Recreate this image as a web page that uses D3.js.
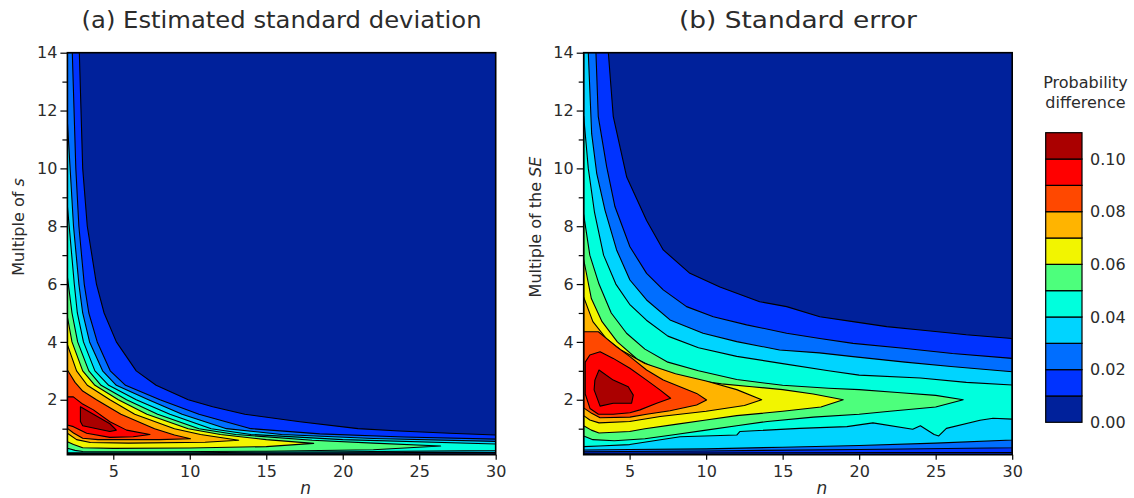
<!DOCTYPE html>
<html>
<head>
<meta charset="utf-8">
<script src="https://cdn.jsdelivr.net/npm/d3@7"></script>
<style>
  body { margin: 0; background: #fff; }
  text { font-family: "DejaVu Sans", sans-serif; fill: #2b2b2b; }
</style>
</head>
<body>
<svg id="chart" width="1134" height="498"></svg>
<script>
// Contour levels and band colours (band i covers levels[i] .. levels[i+1])
const levels = [0, 0.01, 0.02, 0.03, 0.04, 0.05, 0.06, 0.07, 0.08, 0.09, 0.10, 0.11];
const bandColors = ["#00219b", "#0033ff", "#006eff", "#00d4ff", "#00ffdd",
                    "#4dff7c", "#f2f500", "#ffb400", "#ff4800", "#ff0000", "#aa0000"];
const xTicks = [5, 10, 15, 20, 25, 30];
const yTicks = [2, 4, 6, 8, 10, 12, 14];
const yMinorTicks = [1, 3, 5, 7, 9, 11, 13];
const legendTicks = [0, 0.02, 0.04, 0.06, 0.08, 0.10];

// (a) Estimated standard deviation: outline of the region where the
// difference >= 0.01, 0.02, ... as [n, multiple of s] pairs
const sd01 = [[2,14],[2.78,14],[3.0,10],[3.3,8],[3.9,6],[4.4,5],[5.2,4],[6.5,3],[7.8,2.5],[9.9,2],[11.5,1.76],[13.6,1.5],[17.2,1.24],[21,1.0],[23.7,0.92],[27,0.84],[30,0.78],[30,0.115],[2,0.11]];
const sd02 = [[2,14],[2.32,14],[2.55,10],[2.75,8],[3.1,6],[3.4,5],[3.95,4],[4.8,3],[5.8,2.5],[8.05,2],[10.6,1.5],[14,1.0],[18.5,0.82],[24,0.71],[30,0.64],[30,0.14],[2,0.125]];
const sd03 = [[2,11.6],[2.4,8],[2.75,6],[3.0,5],[3.45,4],[4.3,3],[5.2,2.5],[7.3,2],[9.5,1.5],[12.4,1.0],[16,0.8],[22,0.66],[30,0.56],[30,0.18],[2,0.145]];
const sd04 = [[2,8.7],[2.45,6],[2.65,5],[3.05,4],[3.8,3],[4.7,2.5],[6.5,2],[8.7,1.5],[11.4,1.0],[14,0.8],[20,0.62],[30,0.47],[30,0.24],[20,0.2],[10,0.17],[2,0.17]];
const sd05 = [[2,6.25],[2.3,5],[2.67,4],[3.4,3],[4.2,2.5],[5.87,2],[7.9,1.5],[10.6,1.0],[13,0.8],[18,0.6],[22,0.5],[26.4,0.4],[22,0.27],[15,0.22],[8,0.2],[3,0.21],[2.5,0.25],[2,0.32]];
const sd06 = [[2,4.87],[2.3,4],[3.0,3],[3.8,2.5],[5.33,2],[7.2,1.5],[9.9,1.0],[12,0.8],[15,0.62],[18.1,0.49],[15,0.38],[10,0.33],[5,0.32],[3,0.34],[2.4,0.45],[2,0.55]];
const sd07 = [[2,3.9],[2.6,3],[3.3,2.5],[4.78,2],[6.4,1.5],[9.0,1.0],[10.7,0.8],[13.2,0.6],[11,0.53],[6,0.5],[3.5,0.52],[2.6,0.62],[2,0.84]];
const sd08 = [[2,3.03],[2.5,2.6],[3.0,2.3],[3.9,2],[5.5,1.5],[7.7,1.0],[9,0.78],[10.05,0.65],[8,0.62],[4,0.62],[3,0.67],[2.4,0.85],[2,1.01]];
const sd09 = [[2,2.1],[2.39,2.1],[3.0,1.85],[3.7,1.65],[4.78,1.24],[5.87,0.95],[7.4,0.8],[6.3,0.72],[4.78,0.7],[3.26,0.84],[2.39,1.07],[2,1.13]];
const sd10 = [[2.85,1.76],[3.7,1.5],[4.78,1.17],[5.2,0.95],[4.78,0.9],[3.0,1.1],[2.85,1.25]];

// (b) Standard error: same levels, as [n, multiple of the SE] pairs
const se01 = [[2,14],[3.61,14],[3.93,11.8],[4.81,9.7],[6.11,8.2],[7.2,7.18],[8.94,6.37],[10.9,5.9],[13.5,5.39],[15.26,5.22],[17.43,4.87],[19.6,4.7],[21.8,4.53],[24,4.41],[26.1,4.3],[27,4.25],[30,4.12],[30,0.18],[15,0.17],[2,0.15]];
const se02 = [[2,14],[2.8,14],[2.95,11.8],[3.5,10.06],[4.04,8.68],[5.02,7.29],[6.11,6.37],[7.2,5.8],[8.72,5.22],[10.47,4.87],[12.65,4.59],[15.26,4.3],[17.43,4.12],[19.6,3.95],[22.9,3.78],[26.1,3.6],[30,3.43],[30,0.34],[20,0.28],[10,0.23],[2,0.2]];
const se03 = [[2,14],[2.3,14],[2.52,11.2],[2.85,9.83],[3.39,8.56],[4.15,7.18],[5.02,6.14],[6.11,5.45],[7.64,4.76],[9.8,4.3],[12,4.01],[14.8,3.72],[17.4,3.62],[19.6,3.49],[23,3.3],[26,3.15],[30,2.97],[30,0.61],[25,0.5],[20,0.42],[15,0.36],[10,0.3],[5,0.28],[2,0.26]];
const se04 = [[2,11.8],[2.3,10],[2.7,8.5],[3.3,7],[4.1,6],[5,5.3],[6.1,4.75],[7.5,4.2],[9.5,3.8],[12,3.5],[15,3.25],[18,3.0],[20,2.85],[24,2.75],[27,2.6],[30,2.51],[30,1.33],[28.75,1.36],[27.9,1.29],[25.7,1.01],[25.2,0.75],[24.9,0.8],[24,1.1],[23.5,0.98],[20.9,1.2],[19.2,1.07],[16.1,1.01],[12.2,0.9],[12,0.78],[8.3,0.72],[5,0.45],[3,0.4],[2,0.38]];
const se05 = [[2,8.4],[2.4,7],[3,6],[3.8,5],[4.8,4.3],[6,3.75],[7.5,3.3],[9.5,3.0],[12,2.7],[15,2.5],[18,2.4],[20,2.35],[22.5,2.25],[25,2.15],[26.8,2.0],[25,1.75],[22,1.6],[20,1.5],[17,1.4],[14,1.25],[12,1.1],[10,0.95],[8,0.8],[6,0.65],[4,0.58],[2.6,0.62],[2,0.75]];
const se06 = [[2,6.85],[2.5,5.5],[3.2,4.7],[4.2,4.0],[5.5,3.4],[7,3.0],[9,2.7],[11,2.55],[13,2.45],[15,2.35],[17,2.2],[18.96,2.0],[17.5,1.75],[15,1.6],[12,1.45],[10,1.3],[8,1.15],[6,1.0],[5,0.9],[3,0.85],[2.5,0.95],[2,1.1]];
const se07 = [[2,5.55],[2.6,4.7],[3.5,4.1],[4.5,3.7],[6,3.25],[8,2.9],[10,2.65],[12,2.35],[13.63,2.0],[12.5,1.8],[10,1.6],[7,1.42],[5,1.25],[3,1.2],[2.4,1.3],[2,1.45]];
const se08 = [[2,4.35],[2.96,4.35],[4.15,3.83],[5.02,3.49],[6.11,3.03],[7.2,2.68],[8.29,2.45],[9.38,2.22],[10.03,1.99],[9.38,1.82],[7.64,1.62],[6.11,1.5],[5.02,1.4],[3.07,1.38],[2.52,1.53],[2,1.72]];
const se09 = [[2.1,3.3],[2.4,3.55],[3.07,3.66],[3.93,3.43],[5.02,3.09],[6.11,2.68],[6.98,2.34],[7.68,2.05],[6.77,1.88],[5.68,1.65],[5.02,1.55],[3.93,1.5],[2.96,1.5],[2.41,1.7],[2.1,2.2]];
const se10 = [[3.0,3.03],[3.93,2.68],[4.91,2.45],[5.24,2.16],[5.13,1.88],[3.93,1.88],[3.07,1.78],[2.68,2.34],[2.73,2.68]];

const sdRegions = [sd01, sd02, sd03, sd04, sd05, sd06, sd07, sd08, sd09, sd10];
const seRegions = [se01, se02, se03, se04, se05, se06, se07, se08, se09, se10];

const svg = d3.select("#chart");
svg.append("rect").attr("width", 1134).attr("height", 498).attr("fill", "#fff");

const plotTop = 52.7, plotBottom = 454.7;
const y = d3.scaleLinear().domain([0.1, 14]).range([plotBottom, plotTop]);

function drawPanel(id, left, right, regions, title, yLabelParts) {
  const x = d3.scaleLinear().domain([2, 30]).range([left, right]);
  const g = svg.append("g");

  g.append("clipPath").attr("id", "clip-" + id)
    .append("rect").attr("x", left).attr("y", plotTop)
    .attr("width", right - left).attr("height", plotBottom - plotTop);

  const plot = g.append("g").attr("clip-path", `url(#clip-${id})`);
  plot.append("rect").attr("x", left).attr("y", plotTop)
    .attr("width", right - left).attr("height", plotBottom - plotTop)
    .attr("fill", bandColors[0]);

  const outline = d3.line().x(d => x(d[0])).y(d => y(d[1]));
  plot.selectAll("path.band").data(regions).join("path")
    .attr("class", "band")
    .attr("d", d => outline(d) + "Z")
    .attr("fill", (d, i) => bandColors[i + 1])
    .attr("stroke", "#000")
    .attr("stroke-width", 1.1)
    .attr("stroke-linejoin", "round");

  // frame
  g.append("rect").attr("x", left).attr("y", plotTop)
    .attr("width", right - left).attr("height", plotBottom - plotTop)
    .attr("fill", "none").attr("stroke", "#000").attr("stroke-width", 1.6);

  // x axis
  const xAxis = d3.axisBottom(x).tickValues(xTicks).tickSize(5).tickPadding(6).tickFormat(d3.format("d"));
  const gx = g.append("g").attr("transform", `translate(0,${plotBottom})`).call(xAxis);
  gx.select(".domain").remove();
  gx.selectAll("line").attr("stroke", "#000").attr("stroke-width", 1.2);
  gx.selectAll("text").attr("font-size", 16).attr("fill", "#333")
    .style("font-family", '"DejaVu Sans", sans-serif');

  // y axis, labelled majors and short minors
  const yAxis = d3.axisLeft(y).tickValues(yTicks).tickSize(7).tickPadding(3).tickFormat(d3.format("d"));
  const gy = g.append("g").attr("transform", `translate(${left},0)`).call(yAxis);
  gy.select(".domain").remove();
  gy.selectAll("line").attr("stroke", "#000").attr("stroke-width", 1.2);
  gy.selectAll("text").attr("font-size", 16).attr("fill", "#333")
    .style("font-family", '"DejaVu Sans", sans-serif');
  const gyMinor = g.append("g").attr("transform", `translate(${left},0)`)
    .call(d3.axisLeft(y).tickValues(yMinorTicks).tickSize(5).tickFormat(""));
  gyMinor.select(".domain").remove();
  gyMinor.selectAll("line").attr("stroke", "#000").attr("stroke-width", 1.2);

  // title
  g.append("text").attr("x", (left + right) / 2).attr("y", 28)
    .attr("text-anchor", "middle").attr("font-size", 23)
    .attr("textLength", title.length > 20 ? 400 : 238).attr("lengthAdjust", "spacingAndGlyphs")
    .text(title);

  // x label
  g.append("text").attr("x", (left + right) / 2 + 24).attr("y", 494)
    .attr("text-anchor", "middle").attr("font-size", 17)
    .attr("font-style", "italic").text("n");

  // y label
  const yl = g.append("text")
    .attr("transform", `translate(${left - 43},227) rotate(-90)`)
    .attr("text-anchor", "middle").attr("font-size", 16);
  yl.append("tspan").text(yLabelParts[0]);
  yl.append("tspan").attr("font-style", "italic").text(yLabelParts[1]);
}

drawPanel("a", 67.4, 495.7, sdRegions, "(a) Estimated standard deviation", ["Multiple of ", "s"]);
drawPanel("b", 583.7, 1012.2, seRegions, "(b) Standard error", ["Multiple of the ", "SE"]);

// colour legend
const cbLeft = 1045.7, cbWidth = 36.3;
const cy = d3.scaleLinear().domain([0, 0.11]).range([422.3, 132.7]);
const lg = svg.append("g");
lg.selectAll("rect.sw").data(bandColors).join("rect")
  .attr("class", "sw")
  .attr("x", cbLeft).attr("width", cbWidth)
  .attr("y", (d, i) => cy(levels[i + 1]))
  .attr("height", (d, i) => cy(levels[i]) - cy(levels[i + 1]))
  .attr("fill", d => d).attr("stroke", "#000").attr("stroke-width", 1.2);
lg.selectAll("text.tk").data(legendTicks).join("text")
  .attr("class", "tk")
  .attr("x", cbLeft + cbWidth + 8).attr("y", d => cy(d))
  .attr("dy", "0.36em").attr("font-size", 16).attr("fill", "#333")
  .text(d => d3.format(".2f")(d));
lg.append("text").attr("x", 1085.5).attr("y", 88).attr("text-anchor", "middle")
  .attr("font-size", 16).text("Probability");
lg.append("text").attr("x", 1085.5).attr("y", 108).attr("text-anchor", "middle")
  .attr("font-size", 16).text("difference");
</script>
</body>
</html>
